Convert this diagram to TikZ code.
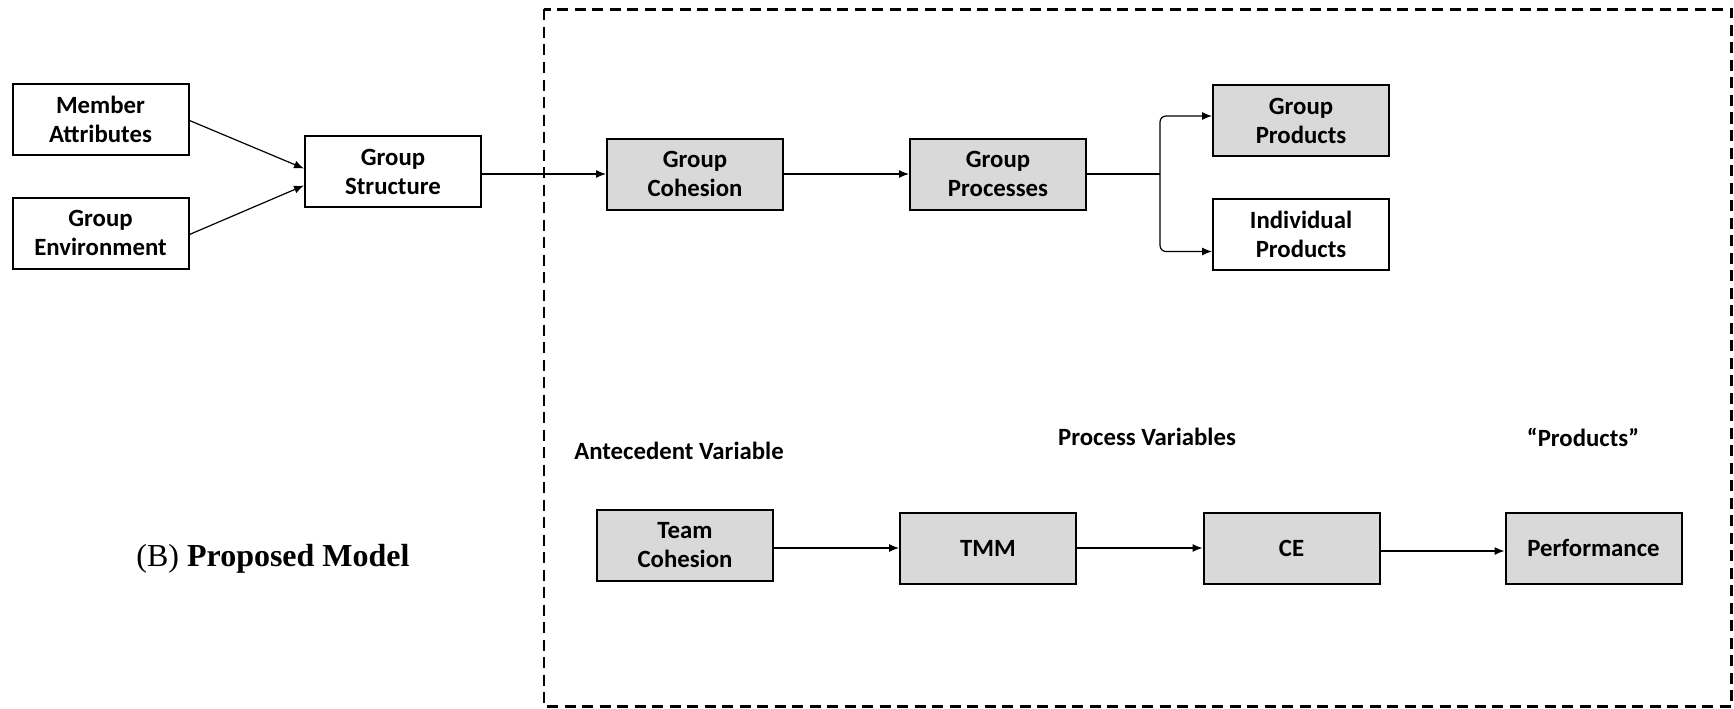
\documentclass[tikz,border=0pt]{standalone}
\usepackage{fontspec}
\setmainfont{Liberation Serif}
\newfontfamily\boxfont{Carlito}
\usetikzlibrary{arrows.meta,calc}
\definecolor{boxgray}{HTML}{D9D9D9}
\begin{document}
\begin{tikzpicture}[x=1pt,y=-1pt,
  box/.style={draw, line width=2pt, minimum width=176pt, minimum height=71pt, align=center,
    inner sep=0pt, font=\boxfont\bfseries\fontsize{24.8}{29}\selectfont},
  gbox/.style={box, fill=boxgray},
  lbl/.style={font=\boxfont\bfseries\fontsize{24.8}{29}\selectfont, inner sep=0pt},
  arr/.style={line width=1.2pt, -{Latex[length=10pt,width=8pt]}},
  frame/.style={line width=2.4pt, dash pattern=on 11pt off 6.5pt}]
\useasboundingbox (0,0) rectangle (1734,709);
\draw[frame] (544,9.5) rectangle (1731.5,706.5);
\node[box]  (ma)   at (100.5,119.5) {Member\\Attributes};
\node[box]  (ge)   at (100.5,233)   {Group\\Environment};
\node[box]  (gs)   at (393,171.5)   {Group\\Structure};
\node[gbox] (gc)   at (695,174)     {Group\\Cohesion};
\node[gbox] (gp)   at (998,174)     {Group\\Processes};
\node[gbox] (gpr)  at (1301,120.5)  {Group\\Products};
\node[box]  (ip)   at (1301,234)    {Individual\\Products};
\node[gbox] (tc)   at (685,545)     {Team\\Cohesion};
\node[gbox] (tmm)  at (988,548)     {TMM};
\node[gbox] (ce)   at (1291.5,548)  {CE};
\node[gbox] (perf) at (1593.5,548)  {Performance};
\node[lbl] (l1) at (679,451) {Antecedent Variable};
\node[lbl] (l2) at (1147,437) {Process Variables};
\node[lbl] (l3) at (1583,437) {“Products”};
\node[font=\fontsize{32}{36}\selectfont, inner sep=0pt] (cap) at (273,559) {(B) \textbf{Proposed Model}};
\coordinate (sp) at (1160,174);
\draw[arr] ($(ma.east)+(0,1)$) -- ($(gs.west)+(0,-3)$);
\draw[arr] ($(ge.east)+(0,1.5)$) -- ($(gs.west)+(0,14)$);
\draw[arr] ($(gs.east)+(0,2.5)$) -- (gc.west);
\draw[arr] (gc.east) -- (gp.west);
\draw[line width=1.2pt] (gp.east) -- (sp);
\draw[arr, rounded corners=6pt] (sp) |- ($(gpr.west)+(0,-4.5)$);
\draw[arr, rounded corners=6pt] (sp) |- ($(ip.west)+(0,17.5)$);
\draw[arr] ($(tc.east)+(0,3)$) -- (tmm.west);
\draw[arr] (tmm.east) -- (ce.west);
\draw[arr] ($(ce.east)+(0,3)$) -- ($(perf.west)+(0,3)$);
\end{tikzpicture}
\end{document}
